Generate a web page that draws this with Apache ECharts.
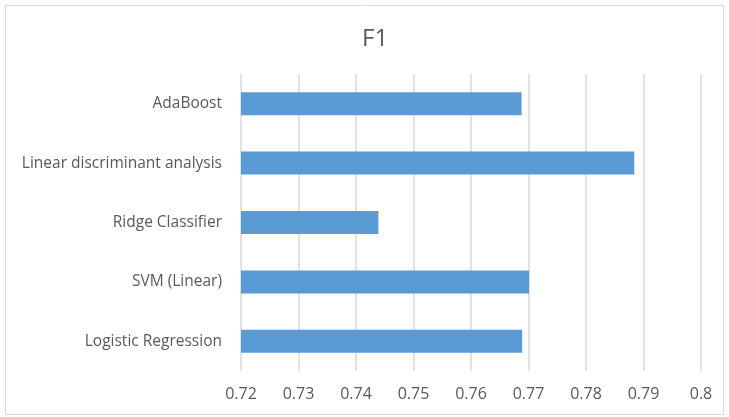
<!DOCTYPE html>
<html>
<head>
<meta charset="utf-8">
<script src="https://cdn.jsdelivr.net/npm/echarts@6/dist/echarts.min.js"></script>
<style>
  html, body { margin: 0; padding: 0; background: #fff; }
  #main { width: 729px; height: 417px; }
</style>
</head>
<body>
<div id="main"></div>
<script>
var models = ['Logistic Regression', 'SVM (Linear)', 'Ridge Classifier', 'Linear discriminant analysis', 'AdaBoost'];
var f1Scores = [0.7689, 0.7701, 0.7439, 0.7884, 0.7688];

var myChart = echarts.init(document.getElementById('main'));

var option = {
    backgroundColor: '#fff',
    animation: false,
    title: {
        text: 'F1',
        left: 357,
        top: 22,
        textStyle: {
            fontFamily: 'Open Sans',
            fontSize: 24,
            fontWeight: 'normal',
            color: '#595959'
        }
    },
    graphic: [{
        type: 'rect',
        shape: { x: 5.5, y: 5.5, width: 718, height: 409 },
        style: { fill: 'none', stroke: '#d9d9d9', lineWidth: 1 },
        silent: true
    }],
    grid: {
        left: 241,
        right: 28,
        top: 74,
        bottom: 46
    },
    xAxis: {
        type: 'value',
        min: 0.72,
        max: 0.8,
        interval: 0.01,
        axisLine: { show: false },
        axisTick: { show: false },
        splitLine: { lineStyle: { color: '#d9d9d9', width: 1.5 } },
        axisLabel: {
            margin: 15,
            fontFamily: 'Open Sans',
            fontSize: 16,
            color: '#595959'
        }
    },
    yAxis: {
        type: 'category',
        data: models,
        axisLine: { show: false },
        axisTick: { show: false },
        axisLabel: {
            margin: 19,
            fontFamily: 'Open Sans',
            fontSize: 15.5,
            color: '#595959'
        }
    },
    series: [{
        type: 'bar',
        data: f1Scores,
        barWidth: 23,
        itemStyle: { color: '#5b9bd5' }
    }]
};
myChart.setOption(option);
</script>
</body>
</html>
